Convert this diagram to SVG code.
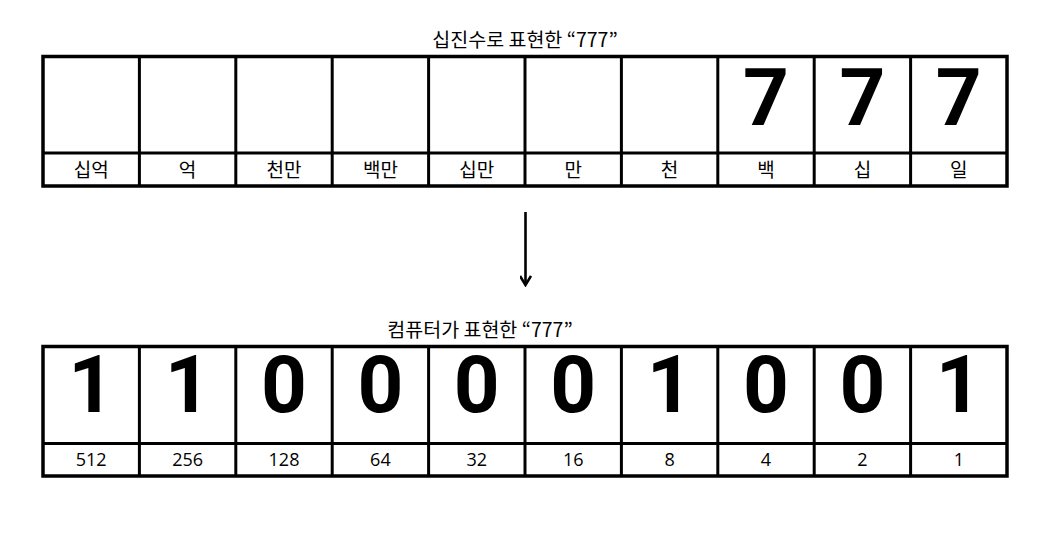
<svg xmlns="http://www.w3.org/2000/svg" width="1047" height="546" viewBox="0 0 1047 546">
<defs>
<style>
.bg{fill:#fff}
.outer{fill:none;stroke:#000;stroke-width:3.5}
.inner{fill:none;stroke:#000;stroke-width:3}
.title{font-family:"Noto Sans CJK KR","Noto Sans",sans-serif;font-size:19.5px;fill:#000;text-anchor:middle}
.kr{font-family:"Noto Sans CJK KR",sans-serif;font-size:19px;fill:#000;text-anchor:middle}
.num{font-family:"Open Sans","Liberation Sans",sans-serif;font-size:18px;fill:#000;text-anchor:middle}
.big{font-family:Roboto,"Liberation Sans",sans-serif;font-weight:bold;font-size:80px;fill:#000;text-anchor:middle}
.conn{stroke:#000;stroke-width:2.6;fill:none}
</style>
<marker id="arr" markerWidth="12" markerHeight="12" viewBox="0 0 12 12" refX="10" refY="6" orient="auto" markerUnits="userSpaceOnUse">
<path d="M1,0.5 L10,6 L1,11.5" fill="none" stroke="#000" stroke-width="2.6"/>
</marker>
</defs>
<rect width="1047" height="546" class="bg"/>

<g id="top-table">
<text class="title" x="525" y="47">십진수로 표현한 “777”</text>
<rect class="outer" x="43" y="56.5" width="964" height="129.5"/>
<line class="inner" x1="43" y1="153" x2="1007" y2="153"/>
<g class="inner">
<line x1="139.4" y1="56.5" x2="139.4" y2="186"/>
<line x1="235.8" y1="56.5" x2="235.8" y2="186"/>
<line x1="332.2" y1="56.5" x2="332.2" y2="186"/>
<line x1="428.6" y1="56.5" x2="428.6" y2="186"/>
<line x1="525" y1="56.5" x2="525" y2="186"/>
<line x1="621.4" y1="56.5" x2="621.4" y2="186"/>
<line x1="717.8" y1="56.5" x2="717.8" y2="186"/>
<line x1="814.2" y1="56.5" x2="814.2" y2="186"/>
<line x1="910.6" y1="56.5" x2="910.6" y2="186"/>
</g>
<g id="top-cells">
<text class="big" x="766" y="125">7</text>
<text class="big" x="862.4" y="125">7</text>
<text class="big" x="958.8" y="125">7</text>
<text class="kr" x="91.2" y="177">십억</text>
<text class="kr" x="187.6" y="177">억</text>
<text class="kr" x="284" y="177">천만</text>
<text class="kr" x="380.4" y="177">백만</text>
<text class="kr" x="476.8" y="177">십만</text>
<text class="kr" x="573.2" y="177">만</text>
<text class="kr" x="669.6" y="177">천</text>
<text class="kr" x="766" y="177">백</text>
<text class="kr" x="862.4" y="177">십</text>
<text class="kr" x="958.8" y="177">일</text>
</g>
</g>

<g id="connectors">
<line class="conn" x1="525.5" y1="212" x2="525.5" y2="285" marker-end="url(#arr)"/>
</g>

<g id="bottom-table">
<text class="title" x="480" y="337">컴퓨터가 표현한 “777”</text>
<rect class="outer" x="43" y="346.5" width="964" height="129.5"/>
<line class="inner" x1="43" y1="443.5" x2="1007" y2="443.5"/>
<g class="inner">
<line x1="139.4" y1="346.5" x2="139.4" y2="476"/>
<line x1="235.8" y1="346.5" x2="235.8" y2="476"/>
<line x1="332.2" y1="346.5" x2="332.2" y2="476"/>
<line x1="428.6" y1="346.5" x2="428.6" y2="476"/>
<line x1="525" y1="346.5" x2="525" y2="476"/>
<line x1="621.4" y1="346.5" x2="621.4" y2="476"/>
<line x1="717.8" y1="346.5" x2="717.8" y2="476"/>
<line x1="814.2" y1="346.5" x2="814.2" y2="476"/>
<line x1="910.6" y1="346.5" x2="910.6" y2="476"/>
</g>
<g id="bottom-cells">
<text class="big" x="91.2" y="412">1</text>
<text class="big" x="187.6" y="412">1</text>
<text class="big" x="284" y="412">0</text>
<text class="big" x="380.4" y="412">0</text>
<text class="big" x="476.8" y="412">0</text>
<text class="big" x="573.2" y="412">0</text>
<text class="big" x="669.6" y="412">1</text>
<text class="big" x="766" y="412">0</text>
<text class="big" x="862.4" y="412">0</text>
<text class="big" x="958.8" y="412">1</text>
<text class="num" x="91.2" y="466">512</text>
<text class="num" x="187.6" y="466">256</text>
<text class="num" x="284" y="466">128</text>
<text class="num" x="380.4" y="466">64</text>
<text class="num" x="476.8" y="466">32</text>
<text class="num" x="573.2" y="466">16</text>
<text class="num" x="669.6" y="466">8</text>
<text class="num" x="766" y="466">4</text>
<text class="num" x="862.4" y="466">2</text>
<text class="num" x="958.8" y="466">1</text>
</g>
</g>
</svg>
